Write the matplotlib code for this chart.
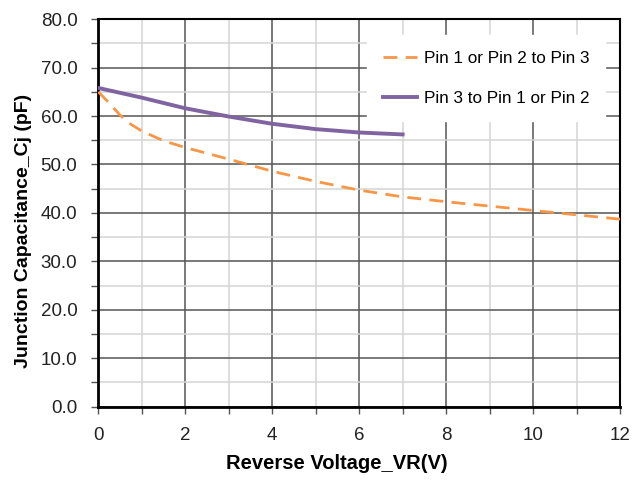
import numpy as np
from matplotlib import pyplot as plt
from matplotlib.ticker import MultipleLocator

plt.rcParams['font.family'] = ['Liberation Sans', 'DejaVu Sans']

# reverse voltage (V)
vr = [0, 0.25, 0.5, 0.75, 1, 1.5, 2, 3, 4, 5, 6, 7, 8, 9, 10, 11, 12]
# Pin 1 or Pin 2 to Pin 3 (pF)
cj_12_to_3 = [65.0, 62.7, 60.2, 58.3, 56.9, 54.9, 53.5, 51.1, 48.6, 46.5, 44.7,
              43.3, 42.3, 41.4, 40.5, 39.6, 38.7]

vr_short = [0, 1, 2, 3, 4, 5, 6, 7]
# Pin 3 to Pin 1 or Pin 2 (pF)
cj_3_to_12 = [65.8, 63.8, 61.6, 59.9, 58.4, 57.3, 56.6, 56.2]

fig = plt.figure(figsize=(6.34, 4.8), dpi=100)
ax = fig.add_axes([0.155, 0.153, 0.823, 0.807])

ax.plot(vr, cj_12_to_3, color='#f79646', lw=2, dashes=(5, 3),
        label='Pin 1 or Pin 2 to Pin 3', zorder=3)
ax.plot(vr_short, cj_3_to_12, color='#8064a2', lw=2.8,
        label='Pin 3 to Pin 1 or Pin 2', zorder=3)

ax.set_xlim(0, 12)
ax.set_ylim(0, 80)
ax.xaxis.set_major_locator(MultipleLocator(2))
ax.xaxis.set_minor_locator(MultipleLocator(1))
ax.yaxis.set_major_locator(MultipleLocator(10))
ax.yaxis.set_minor_locator(MultipleLocator(5))
ax.yaxis.set_major_formatter(lambda v, pos: f'{v:.1f}')

ax.grid(which='major', color='#555555', lw=1.1)
ax.grid(which='minor', color='#d4d4d4', lw=1.1)
ax.set_axisbelow(True)

for side in ['left', 'bottom']:
    ax.spines[side].set_linewidth(2)
for side in ['top', 'right']:
    ax.spines[side].set_linewidth(1.5)

ax.tick_params(which='both', direction='out', color='#555555', width=1)
ax.tick_params(which='major', length=5, labelsize=13.5, labelcolor='#222222')
ax.tick_params(which='minor', length=5)
ax.tick_params(axis='x', which='major', pad=10)
ax.tick_params(axis='y', which='major', pad=10)

ax.set_xlabel('Reverse Voltage_VR(V)', fontsize=14.5, fontweight='bold', labelpad=7)
ax.set_ylabel('Junction Capacitance_Cj (pF)', fontsize=14, fontweight='bold', labelpad=6)
# labels sit a little off-centre along their axes
ax.xaxis.label.set_x(0.457)
ax.yaxis.label.set_y(0.453)

leg = ax.legend(loc='upper right', fontsize=12.3, frameon=True, fancybox=False,
                edgecolor='white', framealpha=1, handlelength=2.0, handletextpad=0.45,
                borderpad=0.9, labelspacing=1.45, bbox_to_anchor=(0.988, 0.98))

fig.savefig('out.png', dpi=100)
